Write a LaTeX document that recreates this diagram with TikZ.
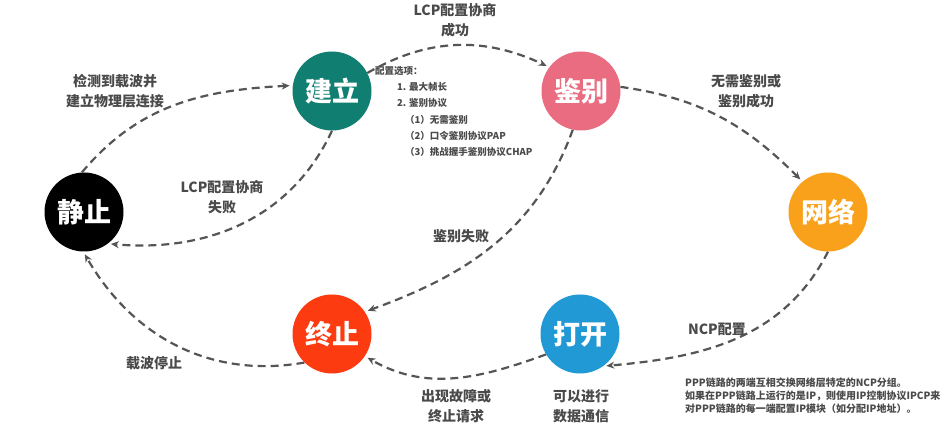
\documentclass[tikz,border=0pt]{standalone}
\usepackage{fontspec}
\setmainfont{Noto Sans CJK SC}
\usetikzlibrary{arrows.meta}

\definecolor{tealgreen}{HTML}{107E71}
\definecolor{rosepink}{HTML}{E96C80}
\definecolor{amber}{HTML}{F9A11B}
\definecolor{redorange}{HTML}{FD3B10}
\definecolor{skyblue}{HTML}{2199D5}
\definecolor{linegray}{HTML}{555555}
\definecolor{textgray}{HTML}{4A4A4A}

\begin{document}
\begin{tikzpicture}[x=1pt,y=1pt,
	state/.style={circle,minimum size=79pt,inner sep=0pt,text=white,font=\bfseries\fontsize{27}{30}\selectfont},
	lbl/.style={text=textgray,align=center,font=\bfseries\fontsize{14}{20}\selectfont},
	opt/.style={text=textgray,anchor=west,inner sep=0pt,font=\bfseries\fontsize{9.5}{12}\selectfont},
	flow/.style={draw=linegray,line width=2.2pt,dash pattern=on 8pt off 5pt,shorten >=3pt,-{Stealth[length=8pt,width=7pt]}}]
			\fill[white] (0,0) rectangle (946,429);
			\useasboundingbox (0,0) rectangle (946,429);

			\node[state,fill=black] (jz) at (84,217){静止};
			\node[state,fill=tealgreen] (jl) at (332,338){建立};
			\node[state,fill=rosepink] (jb) at (581,338){鉴别};
			\node[state,fill=amber] (wl) at (828,217){网络};
			\node[state,fill=redorange] (zz) at (332,95){终止};
			\node[state,fill=skyblue] (dk) at (580,95){打开};

			\draw[flow] (jz.93) to[out=50,in=183] (jl.172);
			\draw[flow] (jl.27) to[out=30,in=155] (jb.143);
			\draw[flow] (jb.6) to[out=-8,in=135] (wl.130);
			\draw[flow] (wl.-90) to[out=243,in=5] (dk.-54);
			\draw[flow] (dk.211) to[out=200,in=-30] (zz.-34);
			\draw[flow] (zz.226) to[out=190,in=-60] (jz.-91);
			\draw[flow] (jl.-90) to[out=245,in=-5] (jz.-53);
			\draw[flow] (jb.-102) to[out=250,in=20] (zz.34);

			\node[lbl] (l1) at (115,338){检测到载波并\\建立物理层连接};
			\node[lbl] (l2) at (455,409){LCP配置协商\\成功};
			\node[lbl] (l3) at (746,338){无需鉴别或\\鉴别成功};
			\node[lbl] (l4) at (717,100){NCP配置};
			\node[lbl] (l5) at (456,23){出现故障或\\终止请求};
			\node[lbl] (l6) at (581,23){可以进行\\数据通信};
			\node[lbl] (l7) at (154,66){载波停止};
			\node[lbl] (l8) at (222,232){LCP配置协商\\失败};
			\node[lbl] (l9) at (461,193){鉴别失败};

			\node[opt] (o0) at (375,358){配置选项：};
			\node[opt] (o1) at (397,342){1. 最大帧长};
			\node[opt] (o2) at (397,326){2. 鉴别协议};
			\node[opt] (o3) at (405,309){（1）无需鉴别};
			\node[opt] (o4) at (405,293){（2）口令鉴别协议PAP};
			\node[opt] (o5) at (405,277){（3）挑战握手鉴别协议CHAP};

			\node[text=textgray,anchor=west,inner sep=0pt,align=left,font=\bfseries\fontsize{10}{13}\selectfont] (ncp) at (685,33){PPP链路的两端互相交换网络层特定的NCP分组。\\如果在PPP链路上运行的是IP，则使用IP控制协议IPCP来\\对PPP链路的每一端配置IP模块（如分配IP地址）。};
		\end{tikzpicture}
\end{document}
